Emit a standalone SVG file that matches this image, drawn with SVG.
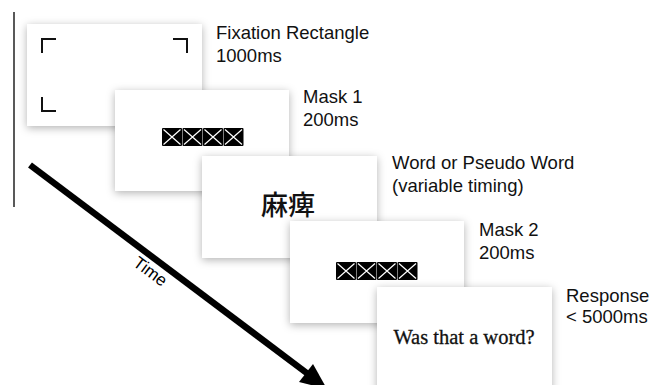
<svg xmlns="http://www.w3.org/2000/svg" width="662" height="385" viewBox="0 0 662 385">
<defs>
<filter id="sh" x="-20%" y="-20%" width="140%" height="140%">
<feDropShadow dx="0" dy="2" stdDeviation="4.5" flood-color="#000" flood-opacity="0.3"/>
</filter>
<g id="mask">
<rect x="0" y="0" width="20" height="18" rx="1" fill="#000"/>
<path d="M1.5,1.5 L18.5,16.5 M18.5,1.5 L1.5,16.5" stroke="#fff" stroke-width="1.2"/>
</g>
</defs>
<style>
.card{fill:#fff;filter:url(#sh)}
.lbl{font-family:"Liberation Sans",Arial,sans-serif;font-size:18.5px;fill:#111}
.corner{fill:none;stroke:#111;stroke-width:2}
</style>
<rect width="662" height="385" fill="#fff"/>
<line x1="14" y1="12" x2="14" y2="207" stroke="#222" stroke-width="1.5"/>
<g id="connectors">
<line x1="30" y1="165" x2="308" y2="374" stroke="#000" stroke-width="6.5"/>
<polygon points="327,389 299,382 313,364" fill="#000"/>
<text transform="translate(150,272) rotate(36.6)" text-anchor="middle" y="5" font-family="Liberation Sans,Arial,sans-serif" font-size="17" fill="#000">Time</text>
</g>
<g id="fixation">
<rect class="card" x="27" y="24" width="175" height="102"/>
<path class="corner" d="M42,53 V39 H56 M173,39 H187 V53 M42,97 V111 H56"/>
<text class="lbl" x="216" y="39">Fixation Rectangle</text>
<text class="lbl" x="216" y="62">1000ms</text>
</g>
<g id="mask1">
<rect class="card" x="115" y="90" width="174" height="101"/>
<use href="#mask" x="162" y="128"/>
<use href="#mask" x="182.5" y="128"/>
<use href="#mask" x="203" y="128"/>
<use href="#mask" x="223.5" y="128"/>
<text class="lbl" x="303" y="103">Mask 1</text>
<text class="lbl" x="303" y="126">200ms</text>
</g>
<g id="word">
<rect class="card" x="202" y="156" width="175" height="102"/>
<text x="288" y="215" text-anchor="middle" font-family="'Noto Sans CJK JP','Noto Sans CJK SC',sans-serif" font-size="27" font-weight="500" fill="#111">麻痺</text>
<text class="lbl" x="392" y="169">Word or Pseudo Word</text>
<text class="lbl" x="392" y="192">(variable timing)</text>
</g>
<g id="mask2">
<rect class="card" x="290" y="221" width="174" height="102"/>
<use href="#mask" x="336" y="262"/>
<use href="#mask" x="356.5" y="262"/>
<use href="#mask" x="377" y="262"/>
<use href="#mask" x="397.5" y="262"/>
<text class="lbl" x="479" y="236">Mask 2</text>
<text class="lbl" x="479" y="259">200ms</text>
</g>
<g id="response">
<rect class="card" x="377" y="287" width="175" height="110"/>
<text x="464" y="344" text-anchor="middle" font-family="'Liberation Serif','Times New Roman',serif" font-size="20.5" fill="#111" stroke="#111" stroke-width="0.3">Was that a word?</text>
<text class="lbl" x="566" y="302">Response</text>
<text class="lbl" x="566" y="323">&lt; 5000ms</text>
</g>
</svg>
